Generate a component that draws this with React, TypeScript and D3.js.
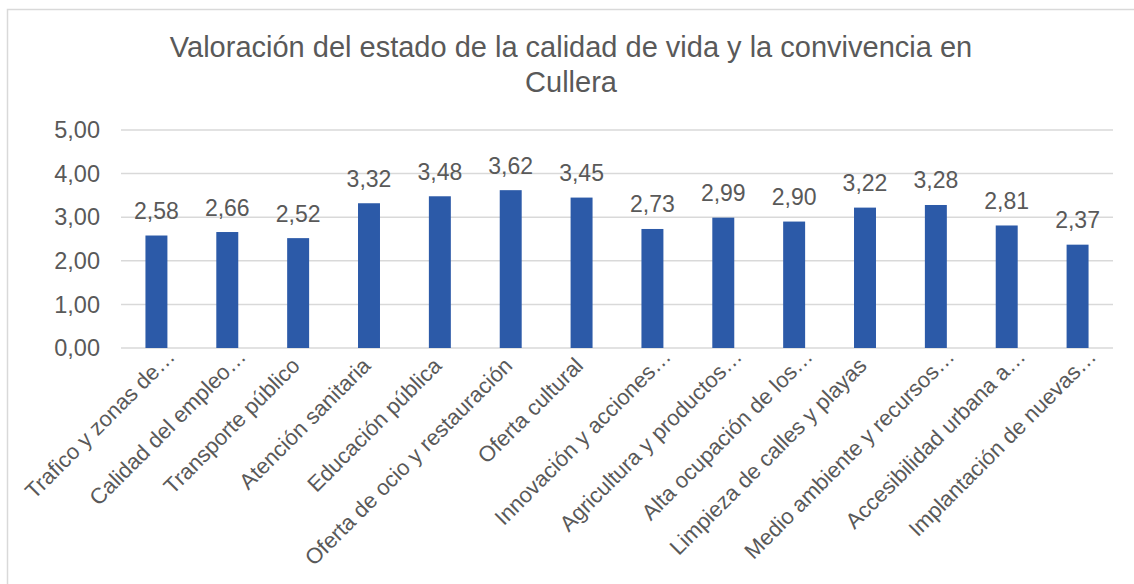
import React from "react";
import * as d3 from "d3";

const titleLines = ["Valoración del estado de la calidad de vida y la convivencia en", "Cullera"];
const categories = [
  "Trafico y zonas de…",
  "Calidad del empleo…",
  "Transporte público",
  "Atención sanitaria",
  "Educación pública",
  "Oferta de ocio y restauración",
  "Oferta cultural",
  "Innovación y acciones…",
  "Agricultura y productos…",
  "Alta ocupación de los…",
  "Limpieza de calles y playas",
  "Medio ambiente y recursos…",
  "Accesibilidad urbana a…",
  "Implantación de nuevas…",
];
const values = [2.58, 2.66, 2.52, 3.32, 3.48, 3.62, 3.45, 2.73, 2.99, 2.9, 3.22, 3.28, 2.81, 2.37];
const yTicks = [0, 1, 2, 3, 4, 5];

const W = 1134;
const H = 584;
const FONT = "'Liberation Sans', Arial, Helvetica, sans-serif";
const TEXT = "#595959";
const GRID = "#D9D9D9";
const BAR = "#2C5AA8";

const fmt = (v: number) => d3.format(".2f")(v).replace(".", ",");

export default function App() {
  const x = d3
    .scaleBand<string>()
    .domain(categories)
    .range([121, 1113])
    .paddingInner(0.69)
    .paddingOuter(0.345);
  const y = d3.scaleLinear().domain([0, 5]).range([348, 130]);
  const axisY = y(0);

  return (
    <svg
      width={W}
      height={H}
      style={{ position: "absolute", left: 0, top: 0, background: "#fff" }}
      fontFamily={FONT}
    >
      <rect x={0} y={0} width={W} height={H} fill="#fff" />
      <rect x={7.5} y={9.5} width={1140} height={600} fill="none" stroke="#D9D9D9" strokeWidth={1.5} />
      {titleLines.map((t, i) => (
        <text key={i} x={571} y={57 + i * 35} textAnchor="middle" fontSize={29} fill={TEXT}>
          {t}
        </text>
      ))}
      {yTicks.map((t) => (
        <g key={t}>
          <line x1={121} x2={1113} y1={y(t)} y2={y(t)} stroke={GRID} strokeWidth={1.5} />
          <text x={100} y={y(t)} dy="0.35em" textAnchor="end" fontSize={23.5} fill={TEXT}>
            {fmt(t)}
          </text>
        </g>
      ))}
      {categories.map((c, i) => {
        const bx = x(c)!;
        const cx = bx + x.bandwidth() / 2;
        const truncated = c.endsWith("…");
        const ax = truncated ? cx + 20 : cx + 3;
        const ay = truncated ? axisY + 10 : axisY + 19;
        return (
          <g key={c}>
            <rect x={bx} y={y(values[i])} width={x.bandwidth()} height={axisY - y(values[i])} fill={BAR} />
            <text x={cx} y={y(values[i]) - 16.5} textAnchor="middle" fontSize={23} fill={TEXT}>
              {fmt(values[i])}
            </text>
            <text
              transform={`translate(${ax},${ay}) rotate(-45)`}
              textAnchor="end"
              fontSize={22}
              fill={TEXT}
            >
              {c}
            </text>
          </g>
        );
      })}
    </svg>
  );
}
